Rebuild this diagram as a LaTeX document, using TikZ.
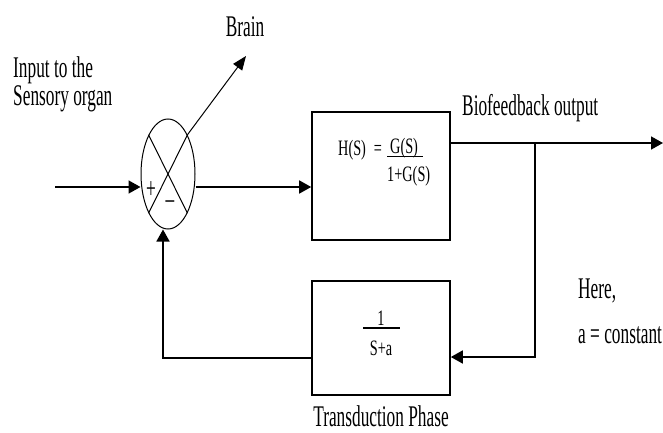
\documentclass[tikz,border=0pt]{standalone}
\usepackage{fontspec}
\setmainfont{Liberation Serif}
\usetikzlibrary{shapes.geometric,arrows.meta}
\newcommand\sqz[1]{\scalebox{0.577}[1]{#1}}
\newcommand\sqf[1]{\scalebox{0.65}[1]{#1}}
\begin{document}
\begin{tikzpicture}[x=1pt,y=-1pt,
  lbl/.style={inner sep=0pt, font=\fontsize{30}{30}\selectfont},
  frm/.style={inner sep=0pt, font=\fontsize{22}{22}\selectfont},
  blk/.style={draw, line width=1.6pt, minimum width=138pt, minimum height=128pt, inner sep=0pt},
  conn/.style={line width=1.6pt},
  arr/.style={conn, -{Triangle[length=12pt,width=13pt]}},
  thin line/.style={line width=1pt},
]
\useasboundingbox[fill=white] (0,0) rectangle (663,433);

% summing junction
\node[draw, ellipse, thin line, minimum width=54pt, minimum height=110pt, inner sep=0pt] (sum) at (168,174) {};
\draw[thin line] (sum.north east) -- (sum.south west);
\draw[thin line] (sum.north west) -- (sum.south east);
\node[lbl] (plus) at (151,190) {\sqz{+}};
\node[lbl] (minus) at (170,205) {\sqz{–}};

% brain
\coordinate (braintip) at (246,56);
\draw[thin line, -{Triangle[length=14pt,width=11pt]}] (sum.north east) -- (braintip);
\node[lbl, anchor=base] (brain) at (245,37) {\sqz{Brain}};

% input
\node[lbl, anchor=base west] (in1) at (13,78) {\sqz{Input to the}};
\node[lbl, anchor=base west] (in2) at (13,106) {\sqz{Sensory organ}};
\coordinate (src) at (55,187);
\draw[arr] (src) -- (sum.west |- src);

% forward block
\node[blk] (hbox) at (381,176) {};
\draw[arr] (sum.east |- src) -- (hbox.west |- src);
\node[frm, anchor=base west] (hs) at (338,155) {\sqf{H(S)}};
\node[frm, anchor=base] (eq) at (378,155) {\sqf{=}};
\node[frm, anchor=base west] (gs) at (390,153) {\sqf{G(S)}};
\draw[line width=1.3pt] (387,156.5) -- (423,156.5);
\node[frm, anchor=base west] (den) at (387,181) {\sqf{1+G(S)}};

% output
\coordinate (out) at (663,143);
\coordinate (br) at (535,143);
\draw[arr] (hbox.east |- out) -- (out);
\node[lbl, anchor=base west] (bio) at (462,115) {\sqz{Biofeedback output}};

% feedback block
\node[blk, minimum height=114pt] (tbox) at (381,338) {};
\node[frm, anchor=base] (one) at (381,325) {\sqf{1}};
\draw[line width=1.3pt] (363,328) -- (400,328);
\node[frm, anchor=base] (sa) at (381,355) {\sqf{S+a}};
\node[lbl, anchor=base] (trans) at (381,426) {\sqz{Transduction Phase}};

\coordinate (br2) at (535,357);
\draw[arr] (br) -- (br2) -- (tbox.east |- br2);
\coordinate (fbl) at (163,358);
\draw[arr] (tbox.west |- fbl) -- (fbl) -- (fbl |- sum.south);

% note
\node[lbl, anchor=base west] (here) at (578,298) {\sqz{Here,}};
\node[lbl, anchor=base west] (const) at (578,343) {\sqz{a = constant}};
\end{tikzpicture}
\end{document}
